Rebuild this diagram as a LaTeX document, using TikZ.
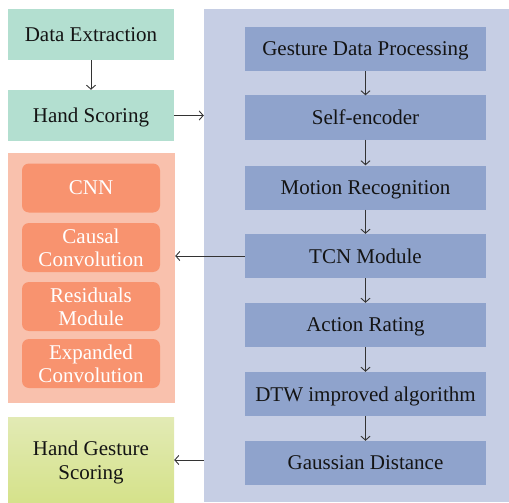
\documentclass[tikz,border=0pt]{standalone}
\usepackage{fontspec}
\setmainfont{Liberation Serif}
\usetikzlibrary{arrows.meta}
\definecolor{cgreen}{HTML}{B3DFD0}
\definecolor{corpanel}{HTML}{F9C1AD}
\definecolor{corbox}{HTML}{F8936F}
\definecolor{cbluepanel}{HTML}{C6CEE4}
\definecolor{cbluebox}{HTML}{8FA3CC}
\definecolor{cygtop}{HTML}{E2EAB5}
\definecolor{cygbot}{HTML}{D5E28A}
\definecolor{ctext}{HTML}{141414}
\definecolor{carrow}{HTML}{333333}
\begin{document}
\begin{tikzpicture}[x=1pt,y=-1pt,
  txt/.style={font=\fontsize{21}{23.5}\selectfont, text=ctext, align=center, inner sep=0pt, text depth=0pt},
  greenbox/.style={txt, fill=cgreen, minimum width=166pt, minimum height=51pt},
  orpanel/.style={fill=corpanel, minimum width=167pt, minimum height=250pt, inner sep=0pt},
  orbox/.style={txt, text=white, fill=corbox, rounded corners=7pt, minimum width=138pt, minimum height=49pt},
  bluepanel/.style={fill=cbluepanel, minimum width=305pt, minimum height=493pt, inner sep=0pt},
  bluebox/.style={txt, fill=cbluebox, minimum width=241pt, minimum height=44pt},
  ygbox/.style={txt, top color=cygtop, bottom color=cygbot, minimum width=166pt, minimum height=86pt},
  conn/.style={draw=carrow, line width=0.9pt, -{Straight Barb[length=4pt,width=9pt,line width=0.9pt]}}
]
\useasboundingbox (0,0) rectangle (509,503);

% left column
\node[greenbox] (de) at (91,34.5) {Data Extraction};
\node[greenbox] (hs) at (91,115.5) {Hand Scoring};
\node[orpanel] (op) at (91.5,278) {};
\node[orbox] (cnn) at (91,188) {CNN};
\node[orbox] (cc) at (91,247.5) {Causal\\Convolution};
\node[orbox] (rm) at (91,306.5) {Residuals\\Module};
\node[orbox] (ec) at (91,363.5) {Expanded\\Convolution};
\node[ygbox] (hgs) at (91,460) {Hand Gesture\\Scoring};

% right panel
\node[bluepanel] (bp) at (356.5,255.5) {};
\node[bluebox] (gdp) at (365.5,49) {Gesture Data Processing};
\node[bluebox] (se) at (365.5,117.5) {Self-encoder};
\node[bluebox] (mr) at (365.5,187.5) {Motion Recognition};
\node[bluebox] (tcn) at (365.5,256) {TCN Module};
\node[bluebox] (ar) at (365.5,325) {Action Rating};
\node[bluebox] (dtw) at (365.5,394) {DTW improved algorithm};
\node[bluebox] (gd) at (365.5,463) {Gaussian Distance};

% connectors
\draw[conn] (de) -- (hs);
\draw[conn] (hs.east) -- (hs.east -| bp.west);
\draw[conn] (gdp) -- (se);
\draw[conn] (se) -- (mr);
\draw[conn] (mr) -- (tcn);
\draw[conn] (tcn) -- (ar);
\draw[conn] (ar) -- (dtw);
\draw[conn] (dtw) -- (gd);
\draw[conn] (tcn.west) -- (tcn.west -| op.east);
\draw[conn] (hgs.east -| bp.west) -- (hgs.east);
\end{tikzpicture}
\end{document}
